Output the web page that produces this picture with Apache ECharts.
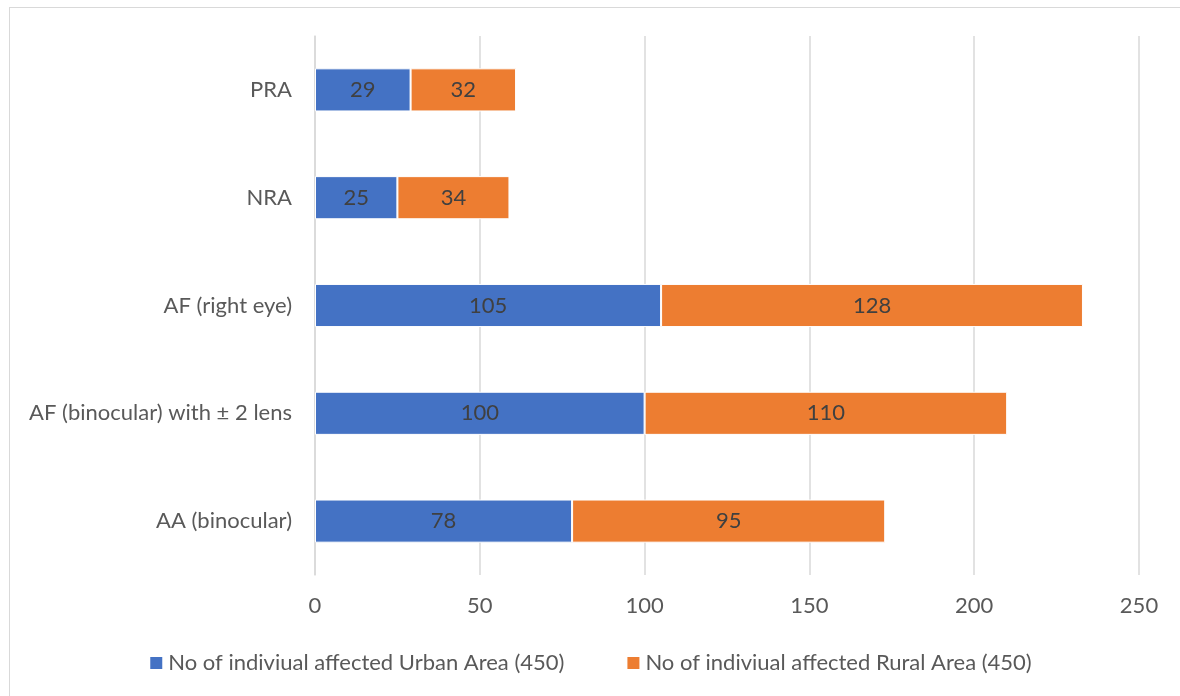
<!DOCTYPE html>
<html>
<head>
<meta charset="utf-8">
<script src="https://cdn.jsdelivr.net/npm/echarts@6/dist/echarts.min.js"></script>
<style>
  html, body { margin: 0; padding: 0; background: #fff; }
  #frame {
    position: absolute; left: 9px; top: 7px; width: 1200px; height: 720px;
    border: 1px solid #d9d9d9; box-sizing: border-box;
  }
  #chart { position: absolute; left: 0; top: 0; width: 1180px; height: 696px; }
</style>
</head>
<body>
<div id="frame"></div>
<div id="chart"></div>
<script>
  // categories bottom -> top, as drawn on the y axis
  const categories = ['AA (binocular)', 'AF (binocular) with ± 2 lens', 'AF (right eye)', 'NRA', 'PRA'];
  const urbanValues = [78, 100, 105, 25, 29];
  const ruralValues = [95, 110, 128, 34, 32];
  const seriesNames = ['No of indiviual affected Urban Area (450)', 'No of indiviual affected Rural Area (450)'];

  const font = 'Lato, "Open Sans", sans-serif';
  const textColor = '#595959';
  const fs = 22;

  let chart = echarts.init(document.getElementById('chart'));

  let option = {
    backgroundColor: 'transparent',
    textStyle: { fontFamily: font },
    legend: {
      data: seriesNames,
      top: 647,
      left: 'center',
      itemWidth: 14,
      itemHeight: 14,
      itemGap: 61,
      icon: 'rect',
      textStyle: { color: textColor, fontSize: fs, fontFamily: font }
    },
    grid: {
      left: 315,
      right: 41,
      top: 36,
      bottom: 121
    },
    xAxis: {
      type: 'value',
      min: 0,
      max: 250,
      interval: 50,
      axisLine: { show: false },
      axisTick: { show: false },
      axisLabel: { color: textColor, fontSize: fs, margin: 20, fontFamily: font },
      splitLine: { lineStyle: { color: '#d9d9d9', width: 1.5 } }
    },
    yAxis: {
      type: 'category',
      data: categories,
      axisLine: { show: true, lineStyle: { color: '#d9d9d9', width: 1.5 } },
      axisTick: { show: false },
      axisLabel: { color: textColor, fontSize: fs, margin: 23, fontFamily: font }
    },
    series: [
      {
        name: seriesNames[0],
        type: 'bar',
        stack: 'total',
        barWidth: '40%',
        itemStyle: { color: '#4472c4', borderColor: '#ffffff', borderWidth: 1 },
        label: { show: true, position: 'inside', color: '#404040', fontSize: fs, fontFamily: font },
        data: urbanValues
      },
      {
        name: seriesNames[1],
        type: 'bar',
        stack: 'total',
        barWidth: '40%',
        itemStyle: { color: '#ed7d31', borderColor: '#ffffff', borderWidth: 1 },
        label: { show: true, position: 'inside', color: '#404040', fontSize: fs, fontFamily: font },
        data: ruralValues
      }
    ]
  };

  chart.setOption(option);
</script>
</body>
</html>
